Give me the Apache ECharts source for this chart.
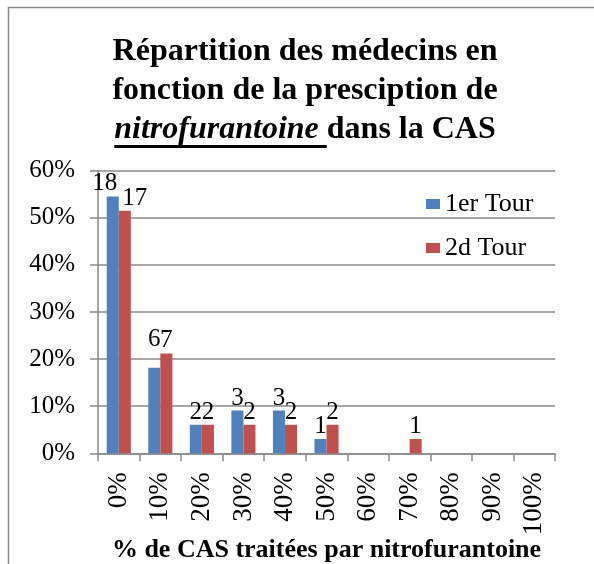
<!DOCTYPE html>
<html>
<head>
<meta charset="utf-8">
<script src="https://cdn.jsdelivr.net/npm/echarts@6/dist/echarts.min.js"></script>
<style>
  html, body { margin: 0; padding: 0; background: #ffffff; }
  #chart { width: 594px; height: 564px; }
</style>
</head>
<body>
<div id="chart"></div>
<script>
// Share of physicians by proportion of CAS cases treated with nitrofurantoin
const categories = ['0%', '10%', '20%', '30%', '40%', '50%', '60%', '70%', '80%', '90%', '100%'];
const round1Counts = [18, 6, 2, 3, 3, 1, 0, 0, 0, 0, 0];
const round2Counts = [17, 7, 2, 2, 2, 2, 0, 1, 0, 0, 0];
const physiciansPerRound = 33;
const seriesNames = ['1er Tour', '2d Tour'];
const yTickValues = [0, 0.1, 0.2, 0.3, 0.4, 0.5, 0.6];

const SERIF = "'Liberation Serif', 'Times New Roman', Times, serif";
const GRID_GRAY = '#8a8a8a';

// Per-bar label nudges where neighbouring labels would collide
const labelNudges = {
  '0-0': [-8, 0],
  '1-0': [10, 0],
  '0-1': [0, -16]
};

function buildSeriesData(counts, seriesIndex) {
  return counts.map((c, i) => {
    const item = { value: c / physiciansPerRound, count: c };
    const nudge = labelNudges[seriesIndex + '-' + i];
    if (nudge) item.label = { offset: nudge };
    return item;
  });
}

function textWidth(text, font) {
  const ctx = document.createElement('canvas').getContext('2d');
  ctx.font = font;
  return ctx.measureText(text).width;
}

const chart = echarts.init(document.getElementById('chart'), null, { renderer: 'canvas' });

const titleFontSize = 32;
const titleCenterX = 305;
const titleLineY = [52, 91, 130];
const boldFont = 'bold ' + titleFontSize + 'px ' + SERIF;
const boldItalicFont = 'italic bold ' + titleFontSize + 'px ' + SERIF;
const italicPart = 'nitrofurantoine ';
const plainPart = 'dans la CAS';
const wItalic = textWidth(italicPart, boldItalicFont);
const wPlain = textWidth(plainPart, boldFont);
const line3Left = titleCenterX - (wItalic + wPlain) / 2;

const labelStyle = {
  show: true,
  position: 'top',
  distance: 0,
  fontFamily: SERIF,
  fontSize: 25,
  color: '#000',
  formatter: p => (p.data.count > 0 ? String(p.data.count) : '')
};

const option = {
  animation: false,
  backgroundColor: '#ffffff',
  grid: { left: 98, right: 39, top: 170.7, bottom: 110.7, containLabel: false, outerBoundsMode: 'none' },
  legend: {
    orient: 'vertical',
    left: 421,
    top: 186,
    itemWidth: 14,
    itemHeight: 10,
    itemGap: 18,
    icon: 'rect',
    textStyle: { fontFamily: SERIF, fontSize: 26, color: '#000' },
    data: seriesNames
  },
  xAxis: {
    type: 'category',
    data: categories,
    name: '% de CAS traitées par nitrofurantoine',
    nameLocation: 'middle',
    nameGap: 84,
    nameMoveOverlap: false,
    nameTextStyle: { fontFamily: SERIF, fontSize: 26, fontWeight: 'bold', color: '#000' },
    axisLine: { show: true, lineStyle: { color: GRID_GRAY, width: 1.5 } },
    axisTick: { show: true, length: 8, alignWithLabel: false, lineStyle: { color: GRID_GRAY, width: 1.5 } },
    axisLabel: { rotate: 90, margin: 19, fontFamily: SERIF, fontSize: 27, color: '#000', interval: 0 },
    splitLine: { show: false }
  },
  yAxis: {
    type: 'value',
    min: yTickValues[0],
    max: yTickValues[yTickValues.length - 1],
    interval: 0.1,
    axisLine: { show: true, lineStyle: { color: GRID_GRAY, width: 1.5 } },
    axisTick: { show: true, length: 8, lineStyle: { color: GRID_GRAY, width: 1.5 } },
    axisLabel: {
      margin: 23,
      fontFamily: SERIF,
      fontSize: 25,
      color: '#000',
      formatter: v => Math.round(v * 100) + '%'
    },
    splitLine: { show: true, lineStyle: { color: GRID_GRAY, width: 1.5 } }
  },
  series: [
    {
      name: seriesNames[0],
      type: 'bar',
      data: buildSeriesData(round1Counts, 0),
      barGap: '0%',
      barCategoryGap: '42%',
      itemStyle: { color: '#4F81BD' },
      label: labelStyle
    },
    {
      name: seriesNames[1],
      type: 'bar',
      data: buildSeriesData(round2Counts, 1),
      barGap: '0%',
      barCategoryGap: '42%',
      itemStyle: { color: '#C0504D' },
      label: labelStyle
    }
  ],
  graphic: [
    {
      type: 'rect',
      z: -10,
      shape: { x: 8.5, y: 7.5, width: 620, height: 620 },
      style: { fill: 'none', stroke: '#8a8a8a', lineWidth: 1.5 }
    },
    {
      type: 'text',
      style: { text: 'Répartition des médecins en', x: titleCenterX, y: titleLineY[0], align: 'center', verticalAlign: 'middle', font: boldFont, fill: '#000' }
    },
    {
      type: 'text',
      style: { text: 'fonction de la presciption de', x: titleCenterX, y: titleLineY[1], align: 'center', verticalAlign: 'middle', font: boldFont, fill: '#000' }
    },
    {
      type: 'text',
      style: { text: italicPart, x: line3Left, y: titleLineY[2], align: 'left', verticalAlign: 'middle', font: boldItalicFont, fill: '#000' }
    },
    {
      type: 'text',
      style: { text: plainPart, x: line3Left + wItalic, y: titleLineY[2], align: 'left', verticalAlign: 'middle', font: boldFont, fill: '#000' }
    },
    {
      type: 'rect',
      shape: { x: line3Left, y: titleLineY[2] + 15, width: wItalic, height: 3 },
      style: { fill: '#000' }
    }
  ]
};

chart.setOption(option);
</script>
</body>
</html>
